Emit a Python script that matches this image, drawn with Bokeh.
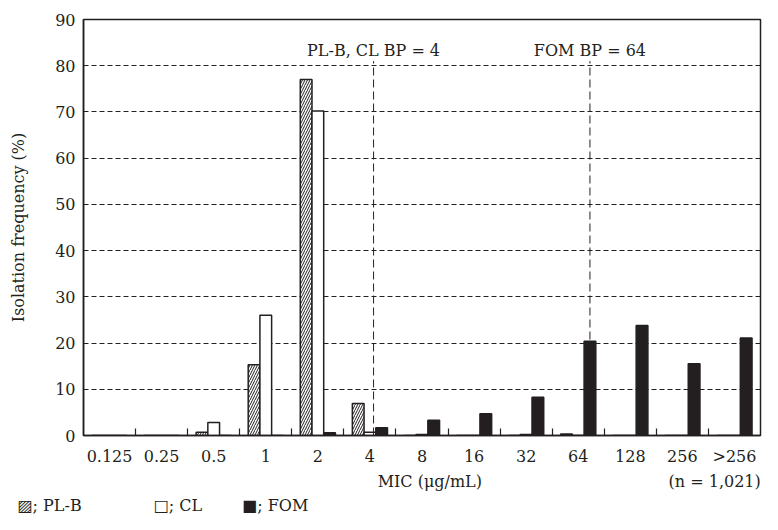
from bokeh.plotting import figure
from bokeh.models import (Range1d, FixedTicker, ColumnDataSource, LinearAxis, Title)
from bokeh.core.properties import value
from bokeh.embed import file_html
from bokeh.resources import INLINE

# ---- data ----
categories = ["0.125", "0.25", "0.5", "1", "2", "4", "8", "16", "32", "64", "128", "256", ">256"]
plb = [0, 0, 0.7, 15.3, 77.0, 6.9, 0, 0, 0, 0.3, 0, 0, 0]
cl = [0, 0, 2.8, 26.0, 70.2, 0.7, 0.2, 0, 0.2, 0, 0, 0, 0]
fom = [0, 0, 0, 0, 0.6, 1.7, 3.3, 4.7, 8.3, 20.4, 23.8, 15.5, 21.1]
y_ticks = [0, 10, 20, 30, 40, 50, 60, 70, 80, 90]
bp_labels = ["PL-B, CL BP = 4", "FOM BP = 64"]
bp_values = ["4", "64"]
x_title = "MIC (\u03bcg/mL)"
n_text = "(n = 1,021)"
legend_keys = ["\u25a8; PL-B", "\u25a1; CL", "\u25a0; FOM"]

FONT = "DejaVu Serif"
INK = "#231f20"
BW = 0.225  # bar width (category units)

n = len(categories)
centers = [i + 0.5 for i in range(n)]

p = figure(width=762, height=514, output_backend="svg", toolbar_location=None,
           x_range=Range1d(0, n), y_range=Range1d(0, 90),
           min_border_left=83, min_border_right=2, min_border_top=19, min_border_bottom=0)
p.background_fill_color = "white"
p.border_fill_color = "white"
p.outline_line_color = INK
p.outline_line_width = 1.5

src = ColumnDataSource(dict(
    x_plb=[c - BW for c in centers], x_cl=centers, x_fom=[c + BW for c in centers],
    plb=plb, cl=cl, fom=fom))

p.vbar(x="x_plb", top="plb", bottom=0, width=BW, source=src,
       fill_color="white", line_color=INK, line_width=1.5,
       hatch_pattern="/", hatch_color=INK, hatch_scale=5, hatch_weight=1)
p.vbar(x="x_cl", top="cl", bottom=0, width=BW, source=src,
       fill_color="white", line_color=INK, line_width=1.5)
p.vbar(x="x_fom", top="fom", bottom=0, width=BW, source=src,
       fill_color=INK, line_color=INK, line_width=1.5)

# breakpoint lines
bp_offsets = [0.07, BW]
bp_x = [categories.index(v) + 0.5 + o for v, o in zip(bp_values, bp_offsets)]
p.segment(x0=bp_x, x1=bp_x, y0=[0] * 2, y1=[81] * 2, line_color=INK,
          line_width=1, line_dash="8 4")
p.text(x=bp_x, y=[83.4] * 2, text=bp_labels, text_font=value(FONT),
       text_font_size="16px", text_color=INK, text_align="center",
       text_baseline="alphabetic")

# axes
p.xaxis.ticker = FixedTicker(ticks=centers, minor_ticks=list(range(1, n)))
p.xaxis.major_label_overrides = {c: lab for c, lab in zip(centers, categories)}
p.xaxis.major_tick_in = 0
p.xaxis.major_tick_out = 0
p.xaxis.minor_tick_in = 7
p.xaxis.minor_tick_out = 0
p.xaxis.minor_tick_line_color = INK
p.xaxis.minor_tick_line_width = 1.2
p.xaxis.major_label_standoff = 11

p.yaxis.ticker = FixedTicker(ticks=y_ticks)
p.yaxis.major_tick_in = 0
p.yaxis.major_tick_out = 0
p.yaxis.minor_tick_in = 0
p.yaxis.minor_tick_out = 0
p.yaxis.major_label_standoff = 8
p.yaxis.axis_label = "Isolation frequency (%)"
p.yaxis.axis_label_standoff = 24

for ax in (p.xaxis[0], p.yaxis[0]):
    ax.axis_line_color = INK
    ax.axis_line_width = 1.5
    ax.major_label_text_font = FONT
    ax.major_label_text_font_size = "16px"
    ax.major_label_text_color = INK
    ax.axis_label_text_font = FONT
    ax.axis_label_text_font_size = "16px"
    ax.axis_label_text_font_style = "normal"
    ax.axis_label_text_color = INK

p.xgrid.visible = False
p.ygrid.ticker = FixedTicker(ticks=y_ticks[1:-1])
p.ygrid.grid_line_color = INK
p.ygrid.grid_line_width = 1
p.ygrid.grid_line_dash = "5 3"

# second row below: axis title and sample size
title_pos = 6.65
n_pos = n - 0.88
ax2 = LinearAxis(ticker=FixedTicker(ticks=[title_pos, n_pos]),
                 major_label_overrides={title_pos: x_title, n_pos: n_text},
                 axis_line_color=None, major_tick_line_color=None,
                 minor_tick_line_color=None, major_tick_out=0, major_tick_in=0,
                 minor_tick_out=0, minor_tick_in=0, major_label_standoff=3,
                 major_label_text_font=FONT, major_label_text_font_size="16px",
                 major_label_text_color=INK)
p.add_layout(ax2, "below")

# legend row (key symbols as text)
gap1 = "\u2003" * 4 + "\u2002"
gap2 = "\u2003" * 2 + "\u2002"
legend_text = legend_keys[0] + gap1 + legend_keys[1] + gap2 + legend_keys[2]
p.add_layout(Title(text=legend_text, align="left", offset=-66, text_font=FONT,
                   text_font_size="16px", text_font_style="normal", text_color=INK,
                   standoff=0), "below")

open("out.html", "w").write(file_html(p, INLINE))
